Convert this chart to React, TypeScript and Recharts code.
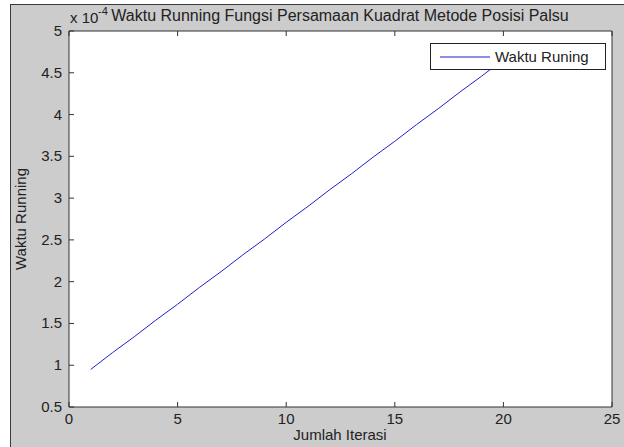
import React from "react";
import { LineChart, Line, XAxis, YAxis, Customized } from "recharts";

// iterations 1..20, running time in units of 1e-4 s
const iterasi = [1, 2, 3, 4, 5, 6, 7, 8, 9, 10, 11, 12, 13, 14, 15, 16, 17, 18, 19, 20];
const waktu = [0.95, 1.15, 1.34, 1.54, 1.73, 1.93, 2.12, 2.32, 2.51, 2.71, 2.9, 3.1, 3.29, 3.49, 3.68, 3.88, 4.07, 4.27, 4.46, 4.66];
const xTicks = [0, 5, 10, 15, 20, 25];
const yTicks = [0.5, 1, 1.5, 2, 2.5, 3, 3.5, 4, 4.5, 5];

const data = iterasi.map((it, i) => ({ iterasi: it, waktu: waktu[i] }));

const FONT = "'Liberation Sans', Arial, sans-serif";
const INK = "#222";
const AXIS = "#333";
const LINE = "#1f1fd0";

const BottomTick = (props: any) => {
    const { x, y, payload } = props;
    return (
        <g>
            <line x1={x} y1={y} x2={x} y2={y - 5} stroke={AXIS} />
            <text x={x} y={y + 17} textAnchor="middle" fontSize={15} fill={INK} fontFamily={FONT}>
                {payload.value}
            </text>
        </g>
    );
};

const TopTick = (props: any) => {
    const { x, y } = props;
    return <line x1={x} y1={y} x2={x} y2={y + 5} stroke={AXIS} />;
};

const LeftTick = (props: any) => {
    const { x, y, payload } = props;
    return (
        <g>
            <line x1={x} y1={y} x2={x + 5} y2={y} stroke={AXIS} />
            <text x={x - 7} y={y + 5} textAnchor="end" fontSize={15} fill={INK} fontFamily={FONT}>
                {payload.value}
            </text>
        </g>
    );
};

const RightTick = (props: any) => {
    const { x, y } = props;
    return <line x1={x} y1={y} x2={x - 5} y2={y} stroke={AXIS} />;
};

const PlotBg = () => <rect x={69} y={31} width={543} height={376} fill="#fff" />;

const Texts = () => (
    <g fontFamily={FONT} fill={INK}>
        <text x={340} y={21} textAnchor="middle" fontSize={16}>
            Waktu Running Fungsi Persamaan Kuadrat Metode Posisi Palsu
        </text>
        <text x={70} y={23} fontSize={15}>
            x 10
        </text>
        <text x={98} y={15} fontSize={11}>
            -4
        </text>
        <text x={340} y={440} textAnchor="middle" fontSize={15}>
            Jumlah Iterasi
        </text>
        <text x={26} y={219} textAnchor="middle" fontSize={15} transform="rotate(-90 26 219)">
            Waktu Running
        </text>
    </g>
);

const LegendBox = () => (
    <div
        style={{
            position: "absolute",
            left: 430,
            top: 43,
            width: 174,
            height: 25,
            border: "1px solid #222",
            background: "#fff",
            display: "flex",
            alignItems: "center",
            fontFamily: FONT,
            fontSize: 15,
            color: INK,
        }}
    >
        <svg width={64} height={25}>
            <line x1={9} y1={13} x2={59} y2={13} stroke={LINE} strokeWidth={1} />
        </svg>
        <span>Waktu Runing</span>
    </div>
);

export default function App() {
    return (
        <div style={{ position: "absolute", left: 0, top: 0, width: 624, height: 447, background: "#fff" }}>
            <div
                style={{
                    position: "absolute",
                    left: 10,
                    top: 4,
                    width: 614,
                    height: 443,
                    background: "#cccccc",
                    borderLeft: "1px solid #3a3a3a",
                    borderTop: "1px solid #3a3a3a",
                    boxSizing: "border-box",
                }}
            />
            <div style={{ position: "absolute", left: 0, top: 0 }}>
                <LineChart width={624} height={447} data={data} margin={{ top: 0, right: 0, bottom: 0, left: 0 }}>
                    <Customized component={<PlotBg />} />
                    <XAxis
                        dataKey="iterasi"
                        type="number"
                        domain={[0, 25]}
                        ticks={xTicks}
                        height={40}
                        tickSize={0}
                        tickMargin={0}
                        tickLine={false}
                        axisLine={{ stroke: AXIS }}
                        tick={<BottomTick />}
                        interval={0}
                    />
                    <XAxis
                        xAxisId="top"
                        orientation="top"
                        dataKey="iterasi"
                        type="number"
                        domain={[0, 25]}
                        ticks={xTicks}
                        height={31}
                        tickSize={0}
                        tickMargin={0}
                        tickLine={false}
                        axisLine={{ stroke: AXIS }}
                        tick={<TopTick />}
                        interval={0}
                    />
                    <YAxis
                        type="number"
                        domain={[0.5, 5]}
                        ticks={yTicks}
                        width={69}
                        tickSize={0}
                        tickMargin={0}
                        tickLine={false}
                        axisLine={{ stroke: AXIS }}
                        tick={<LeftTick />}
                        interval={0}
                    />
                    <YAxis
                        yAxisId="right"
                        orientation="right"
                        type="number"
                        domain={[0.5, 5]}
                        ticks={yTicks}
                        width={12}
                        tickSize={0}
                        tickMargin={0}
                        tickLine={false}
                        axisLine={{ stroke: AXIS }}
                        tick={<RightTick />}
                        interval={0}
                    />
                    <Line
                        type="linear"
                        dataKey="waktu"
                        name="Waktu Runing"
                        stroke={LINE}
                        strokeWidth={1}
                        dot={false}
                        isAnimationActive={false}
                    />
                    <Customized component={<Texts />} />
                </LineChart>
            </div>
            <LegendBox />
        </div>
    );
}
